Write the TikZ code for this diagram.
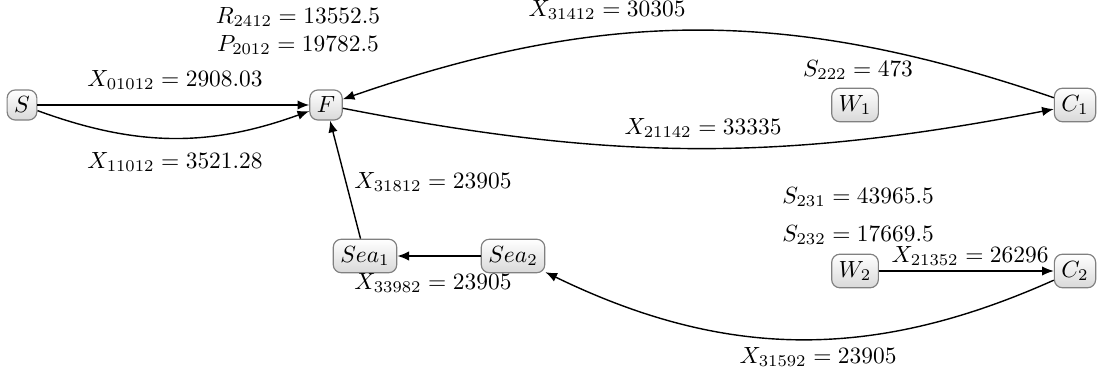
\documentclass[tikz,border=0pt]{standalone}
\usetikzlibrary{arrows.meta}
\begin{document}
\begin{tikzpicture}[x=0.427pt,y=-0.427pt,
  box/.style={draw=black!50,rounded corners=3.5pt,top color=white,bottom color=black!15,inner sep=3pt,line width=0.5pt},
  conn/.style={-{Latex[length=5pt,width=4pt]},line width=0.6pt},
  lbl/.style={inner sep=0pt}]
\useasboundingbox (0,0) rectangle (1103,378);
\node[box] (S) at (22,105) {$S$};
\node[box] (F) at (326,105) {$F$};
\node[box] (W1) at (855,105) {$W_1$};
\node[box] (C1) at (1075,105) {$C_1$};
\node[box] (Sea1) at (365,256) {$Sea_1$};
\node[box] (Sea2) at (513,256) {$Sea_2$};
\node[box] (W2) at (855,271) {$W_2$};
\node[box] (C2) at (1075,271) {$C_2$};

\draw[conn] (S) -- (F);
\draw[conn] (S) to[bend right=20] (F);
\draw[conn] (C1) to[bend right=19] (F);
\draw[conn] (F) to[bend right=11] (C1);
\draw[conn] (Sea1) -- (F);
\draw[conn] (Sea2) -- (Sea1);
\draw[conn] (W2) -- (C2);
\draw[conn] (C2) to[bend left=25] (Sea2);

\node[lbl] (l1) at (298,17) {$R_{2412}=13552.5$};
\node[lbl] (l2) at (298,45) {$P_{2012}=19782.5$};
\node[lbl] (l3) at (607,10) {$X_{31412}=30305$};
\node[lbl] (l4) at (858,70) {$S_{222}=473$};
\node[lbl] (l5) at (703,128) {$X_{21142}=33335$};
\node[lbl] (l6) at (175,80) {$X_{01012}=2908.03$};
\node[lbl] (l7) at (175,162) {$X_{11012}=3521.28$};
\node[lbl] (l8) at (433,182) {$X_{31812}=23905$};
\node[lbl] (l9) at (433,283) {$X_{33982}=23905$};
\node[lbl] (l10) at (858,197) {$S_{231}=43965.5$};
\node[lbl] (l11) at (858,235) {$S_{232}=17669.5$};
\node[lbl] (l12) at (970,256) {$X_{21352}=26296$};
\node[lbl] (l13) at (818,357) {$X_{31592}=23905$};
\end{tikzpicture}
\end{document}
